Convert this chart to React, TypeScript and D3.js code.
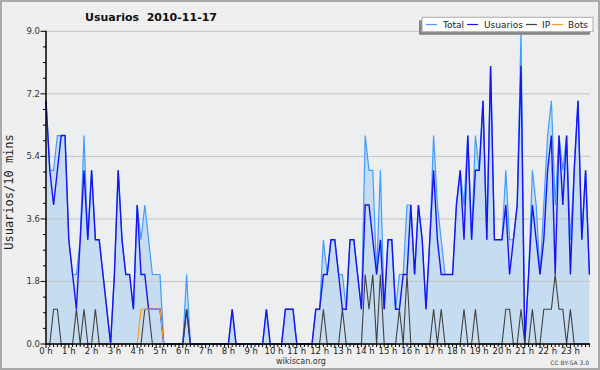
import React, { useEffect, useRef } from 'react';
import * as d3 from 'd3';

// Editors per 10 minute slot, 144 slots for the day (2 hours per row)
const usuarios = [
  7, 5, 4, 5, 6, 6, 3, 2, 1, 3, 5, 3,
  5, 3, 3, 2, 1, 0, 2, 5, 3, 2, 2, 1,
  4, 2, 2, 1, 1, 1, 1, 0, 0, 0, 0, 0,
  0, 1, 0, 0, 0, 0, 0, 0, 0, 0, 0, 0,
  0, 1, 0, 0, 0, 0, 0, 0, 0, 0, 1, 0,
  0, 0, 0, 1, 1, 1, 0, 0, 0, 0, 0, 1,
  1, 2, 2, 3, 3, 2, 1, 1, 3, 3, 2, 1,
  4, 4, 3, 2, 3, 1, 3, 3, 1, 1, 2, 2,
  4, 2, 4, 3, 1, 3, 5, 3, 2, 2, 2, 2,
  4, 5, 3, 6, 3, 5, 5, 7, 3, 8, 3, 3,
  3, 4, 2, 3, 4, 8, 0, 2, 4, 3, 2, 3,
  5, 6, 2, 6, 4, 6, 2, 5, 7, 3, 5, 2,
];

const total = [
  7, 5, 5, 6, 6, 6, 3, 2, 2, 3, 6, 3,
  5, 3, 3, 2, 1, 0, 2, 5, 3, 2, 2, 1,
  4, 3, 4, 3, 2, 2, 2, 0, 0, 0, 0, 0,
  0, 2, 0, 0, 0, 0, 0, 0, 0, 0, 0, 0,
  0, 1, 0, 0, 0, 0, 0, 0, 0, 0, 1, 0,
  0, 0, 0, 1, 1, 1, 0, 0, 0, 0, 0, 1,
  1, 3, 2, 3, 3, 2, 2, 1, 3, 3, 2, 1,
  6, 5, 5, 2, 5, 1, 3, 3, 1, 2, 2, 4,
  4, 2, 4, 3, 1, 3, 6, 4, 3, 2, 2, 2,
  4, 5, 4, 6, 3, 6, 5, 7, 3, 8, 3, 3,
  3, 5, 3, 3, 4, 9, 0, 2, 5, 4, 2, 4,
  6, 7, 4, 6, 5, 6, 3, 5, 7, 3, 5, 2,
];

const ip = [
  0, 0, 1, 1, 0, 0, 0, 0, 1, 0, 1, 0,
  0, 1, 0, 0, 0, 0, 0, 0, 0, 0, 0, 0,
  0, 0, 1, 1, 0, 0, 0, 0, 0, 0, 0, 0,
  0, 1, 0, 0, 0, 0, 0, 0, 0, 0, 0, 0,
  0, 0, 0, 0, 0, 0, 0, 0, 0, 0, 0, 0,
  0, 0, 0, 0, 0, 0, 0, 0, 0, 0, 0, 0,
  0, 1, 0, 0, 0, 0, 1, 0, 0, 0, 0, 0,
  2, 1, 2, 0, 2, 0, 0, 0, 0, 1, 0, 2,
  0, 0, 0, 0, 0, 0, 1, 0, 1, 0, 0, 0,
  0, 0, 1, 0, 0, 1, 0, 0, 0, 0, 0, 0,
  0, 1, 1, 0, 0, 1, 0, 0, 1, 0, 0, 1,
  1, 1, 2, 1, 1, 0, 1, 0, 0, 0, 0, 0,
];

const bots = [
  0, 0, 0, 0, 0, 0, 0, 0, 0, 0, 0, 0,
  0, 0, 0, 0, 0, 0, 0, 0, 0, 0, 0, 0,
  0, 1, 1, 1, 1, 1, 1, 0, 0, 0, 0, 0,
  0, 0, 0, 0, 0, 0, 0, 0, 0, 0, 0, 0,
  0, 0, 0, 0, 0, 0, 0, 0, 0, 0, 0, 0,
  0, 0, 0, 0, 0, 0, 0, 0, 0, 0, 0, 0,
  0, 0, 0, 0, 0, 0, 0, 0, 0, 0, 0, 0,
  0, 0, 0, 0, 0, 0, 0, 0, 0, 0, 0, 0,
  0, 0, 0, 0, 0, 0, 0, 0, 0, 0, 0, 0,
  0, 0, 0, 0, 0, 0, 0, 0, 0, 0, 0, 0,
  0, 0, 0, 0, 0, 0, 0, 0, 0, 0, 0, 0,
  0, 0, 0, 0, 0, 0, 0, 0, 0, 0, 0, 0,
];

const yTicks = [0, 1.8, 3.6, 5.4, 7.2, 9.0];
const hourLabels = d3.range(24).map(h => `${h} h`);
const legendNames = ['Total', 'Usuarios', 'IP', 'Bots'];
const legendColors = ['#3f9dff', '#1414f5', '#404040', '#ff9a1a'];

const App = () => {
  const svgRef = useRef<SVGSVGElement>(null);

  useEffect(() => {
    const width = 600;
    const height = 370;
    const left = 46;
    const right = 589.4;
    const top = 31.3;
    const bottom = 344;

    const svg = d3.select(svgRef.current);
    svg.selectAll('*').remove();
    svg.attr('width', width).attr('height', height);

    // page background with a grey frame
    svg.append('rect')
      .attr('x', 1).attr('y', 1)
      .attr('width', width - 2).attr('height', height - 2)
      .attr('fill', '#efefef')
      .attr('stroke', '#a9a9a9')
      .attr('stroke-width', 2);

    svg.append('rect')
      .attr('x', left).attr('y', top)
      .attr('width', 590 - left).attr('height', bottom - top)
      .attr('fill', '#edeef0');

    const x = d3.scaleLinear().domain([0, 143]).range([left, right]);
    const y = d3.scaleLinear().domain([0, 9]).range([bottom, top]);

    // area under the total
    const area = d3.area<number>()
      .x((_, i) => x(i))
      .y0(y(0))
      .y1(d => y(d));
    svg.append('path')
      .datum(total)
      .attr('d', area)
      .attr('fill', '#c6ddf1');

    // horizontal grid
    svg.append('g')
      .selectAll('line')
      .data(yTicks.filter(t => t > 0))
      .enter()
      .append('line')
      .attr('x1', left).attr('x2', 590)
      .attr('y1', d => y(d)).attr('y2', d => y(d))
      .attr('stroke', '#c4c4c4')
      .attr('stroke-width', 1);

    const line = d3.line<number>()
      .x((_, i) => x(i))
      .y(d => y(d));

    const series = [total, usuarios, ip, bots];
    const widths = [1.2, 1.4, 1.1, 1.2];
    series.forEach((s, k) => {
      // bots are only drawn where they show up
      const vals = k === 3 ? s.map((v, i) => ({ v, i })).filter(d => d.i >= 24 && d.i <= 31) : null;
      if (vals) {
        svg.append('path')
          .datum(vals)
          .attr('d', d3.line<{ v: number; i: number }>().x(d => x(d.i)).y(d => y(d.v)))
          .attr('fill', 'none')
          .attr('stroke', legendColors[k])
          .attr('stroke-width', widths[k]);
        return;
      }
      svg.append('path')
        .datum(s)
        .attr('d', line)
        .attr('fill', 'none')
        .attr('stroke', legendColors[k])
        .attr('stroke-width', widths[k])
        .attr('stroke-linejoin', 'miter');
    });

    // axes
    const axis = svg.append('g').attr('stroke', '#000');
    axis.append('line')
      .attr('x1', left).attr('x2', left)
      .attr('y1', top - 0.5).attr('y2', bottom + 0.5)
      .attr('stroke-width', 1.5);
    axis.append('line')
      .attr('x1', left).attr('x2', 590)
      .attr('y1', bottom).attr('y2', bottom)
      .attr('stroke-width', 1.5);

    // y ticks: major every 1.8, minor every 0.45
    d3.range(0, 21).forEach(k => {
      const v = k * 0.45;
      const major = k % 4 === 0;
      axis.append('line')
        .attr('x1', major ? 40.5 : 43).attr('x2', left)
        .attr('y1', y(v)).attr('y2', y(v))
        .attr('stroke-width', 1);
    });

    // x ticks every 10 minutes
    d3.range(0, 144).forEach(i => {
      axis.append('line')
        .attr('x1', x(i)).attr('x2', x(i))
        .attr('y1', bottom).attr('y2', bottom + (i % 6 === 0 ? 4 : 3))
        .attr('stroke-width', 1);
    });

    const font = 'DejaVu Sans, sans-serif';

    svg.append('g')
      .selectAll('text')
      .data(yTicks)
      .enter()
      .append('text')
      .attr('x', 40)
      .attr('y', d => y(d) + 3)
      .attr('text-anchor', 'end')
      .attr('font-family', font)
      .attr('font-size', '8.5px')
      .attr('fill', '#333')
      .text(d => d.toFixed(1));

    svg.append('g')
      .selectAll('text')
      .data(hourLabels)
      .enter()
      .append('text')
      .attr('x', (_, h) => x(h * 6))
      .attr('y', 354)
      .attr('text-anchor', 'middle')
      .attr('font-family', font)
      .attr('font-size', '8.5px')
      .attr('fill', '#222')
      .text(d => d);

    // title
    svg.append('text')
      .attr('x', 151)
      .attr('y', 21)
      .attr('text-anchor', 'middle')
      .attr('font-family', font)
      .attr('font-weight', 'bold')
      .attr('font-size', '11px')
      .attr('fill', '#111')
      .style('white-space', 'pre')
      .text('Usuarios  2010-11-17');

    // y axis label
    svg.append('text')
      .attr('transform', 'translate(13,192) rotate(-90)')
      .attr('text-anchor', 'middle')
      .attr('font-family', 'DejaVu Sans Mono, monospace')
      .attr('font-size', '12px')
      .attr('fill', '#222')
      .text('Usuarios/10 mins');

    // footer
    svg.append('text')
      .attr('x', 301).attr('y', 364)
      .attr('text-anchor', 'middle')
      .attr('font-family', font)
      .attr('font-size', '8px')
      .attr('fill', '#333')
      .text('wikiscan.org');
    svg.append('text')
      .attr('x', 589).attr('y', 365)
      .attr('text-anchor', 'end')
      .attr('font-family', font)
      .attr('font-size', '6px')
      .attr('fill', '#444')
      .text('CC BY-SA 3.0');

    // legend with its drop shadow
    const lg = svg.append('g');
    lg.append('rect')
      .attr('x', 419).attr('y', 20.3)
      .attr('width', 171).attr('height', 14.5)
      .attr('fill', '#858585');
    lg.append('rect')
      .attr('x', 422).attr('y', 17.3)
      .attr('width', 171).attr('height', 14.4)
      .attr('fill', '#fff')
      .attr('stroke', '#aaa')
      .attr('stroke-width', 1);
    const lineX = [426, 467, 526, 552];
    const textX = [443, 484, 542, 568];
    legendNames.forEach((name, k) => {
      lg.append('line')
        .attr('x1', lineX[k]).attr('x2', lineX[k] + 11)
        .attr('y1', 24.5).attr('y2', 24.5)
        .attr('stroke', legendColors[k])
        .attr('stroke-width', 1.2);
      lg.append('text')
        .attr('x', textX[k]).attr('y', 28)
        .attr('font-family', font)
        .attr('font-size', '9px')
        .attr('fill', '#222')
        .text(name);
    });
  }, []);

  return (
    <svg
      ref={svgRef}
      style={{ position: 'absolute', left: 0, top: 0, display: 'block' }}
    ></svg>
  );
};

export default App;
